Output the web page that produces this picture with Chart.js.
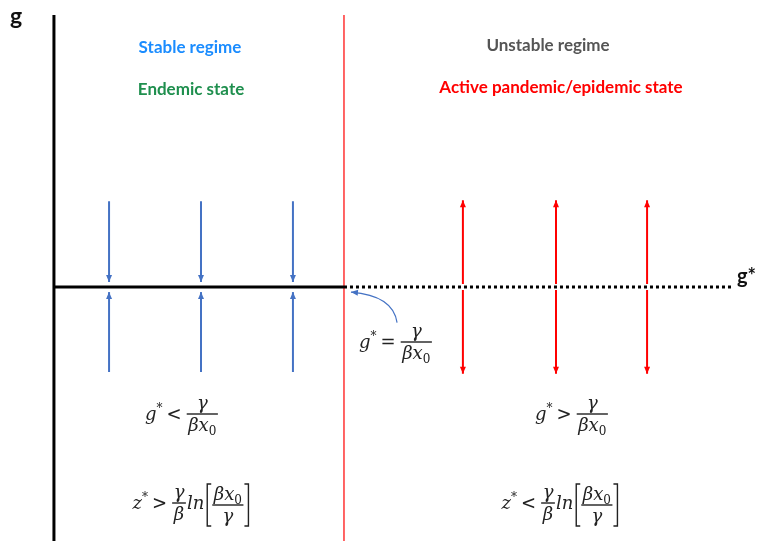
<!DOCTYPE html>
<html>
<head>
<meta charset="utf-8">
<script src="https://cdn.jsdelivr.net/npm/chart.js@4"></script>
<style>
html, body { margin: 0; padding: 0; background: #fff; }
#wrap { width: 757px; height: 541px; }
</style>
</head>
<body>
<div id="wrap"><canvas id="diagram"></canvas></div>
<script>
// g* axis in units of the threshold gamma/(beta x0); g axis in arbitrary units
const threshold = 1;
const stableX = [0.19, 0.507, 0.824];
const unstableX = [1.41, 1.731, 2.045];
// arrow spans [from, to]; the head sits at "to"
const stableSpans = [[1.01, 0.06], [-1.0, -0.06]];
const unstableSpans = [[0.035, 1.02], [-0.035, -1.02]];
const axisTop = 3.2;
const axisBottom = -3.1;
const dottedEnd = 2.34;

const blue = '#4472C4';
const red = '#ff0000';

const datasets = [];
function seg(x0, y0, x1, y1, color, width, extra) {
    datasets.push(Object.assign({
        data: [{x: x0, y: y0}, {x: x1, y: y1}],
        showLine: true,
        borderColor: color,
        backgroundColor: color,
        borderWidth: width,
        pointRadius: 0,
        borderCapStyle: 'butt'
    }, extra || {}));
}

// axes and threshold
seg(0, axisTop, 0, axisBottom, '#000', 3);
seg(0, 0, threshold, 0, '#000', 3);
seg(threshold, 0, dottedEnd, 0, '#000', 3, {borderDash: [3, 3]});
seg(threshold, axisTop, threshold, axisBottom, red, 1.2);

stableX.forEach(x => stableSpans.forEach(s => seg(x, s[0], x, s[1], blue, 2, {arrow: true})));
unstableX.forEach(x => unstableSpans.forEach(s => seg(x, s[0], x, s[1], red, 2, {arrow: true})));

// ---- tiny formula renderer ----
const FS = 18;
const fonts = {
    i: `italic ${FS}px "DejaVu Serif"`,
    n: `${FS}px "DejaVu Serif"`,
    sub: `${Math.round(FS * 0.68)}px "DejaVu Serif"`,
    sup: `${Math.round(FS * 0.68)}px "DejaVu Serif"`
};
function seqW(ctx, seq) {
    let w = 0;
    seq.forEach(p => { ctx.font = fonts[p[1]]; w += ctx.measureText(p[0]).width; });
    return w;
}
function drawSeq(ctx, seq, x, base) {
    seq.forEach(p => {
        ctx.font = fonts[p[1]];
        let dy = p[1] === 'sub' ? 4 : p[1] === 'sup' ? -8 : 0;
        ctx.fillText(p[0], x, base + dy);
        x += ctx.measureText(p[0]).width;
    });
    return x;
}
function drawFrac(ctx, num, den, x, axis) {
    const wn = seqW(ctx, num), wd = seqW(ctx, den);
    const w = Math.max(wn, wd) + 3;
    ctx.fillRect(x, axis - 0.7, w, 1.4);
    drawSeq(ctx, num, x + (w - wn) / 2, axis - 5);
    drawSeq(ctx, den, x + (w - wd) / 2, axis + 17);
    return x + w;
}
function formulaW(ctx, items) {
    let w = 0;
    items.forEach(it => {
        if (it.seq) w += seqW(ctx, it.seq);
        else if (it.op) { ctx.font = fonts.n; w += ctx.measureText(it.op).width + 8; }
        else if (it.frac) w += Math.max(seqW(ctx, it.frac[0]), seqW(ctx, it.frac[1])) + 5;
        else if (it.brk) w += Math.max(seqW(ctx, it.brk[0]), seqW(ctx, it.brk[1])) + 17;
    });
    return w;
}
function drawFormula(ctx, items, cx, axis) {
    let x = cx - formulaW(ctx, items) / 2;
    items.forEach(it => {
        if (it.seq) x = drawSeq(ctx, it.seq, x, axis + 6);
        else if (it.op) {
            ctx.font = fonts.n;
            ctx.fillText(it.op, x + 4, axis + 6);
            x += ctx.measureText(it.op).width + 8;
        } else if (it.frac) {
            x = drawFrac(ctx, it.frac[0], it.frac[1], x + 1, axis) + 1;
        } else if (it.brk) {
            const top = axis - 19, bot = axis + 23;
            ctx.lineWidth = 1.4;
            ctx.beginPath();
            ctx.moveTo(x + 7, top); ctx.lineTo(x + 3, top); ctx.lineTo(x + 3, bot); ctx.lineTo(x + 7, bot);
            ctx.stroke();
            x = drawFrac(ctx, it.brk[0], it.brk[1], x + 8, axis + 2);
            ctx.beginPath();
            ctx.moveTo(x + 1, top); ctx.lineTo(x + 5, top); ctx.lineTo(x + 5, bot); ctx.lineTo(x + 1, bot);
            ctx.stroke();
            x += 7;
        }
    });
}
const gStar = [['g', 'i'], ['*', 'sup']];
const zStar = [['z', 'i'], ['*', 'sup']];
const gam = [['γ', 'i']];
const bet = [['β', 'i']];
const bx0 = [['β', 'i'], ['x', 'i'], ['0', 'sub']];

const labelsPlugin = {
    id: 'labels',
    afterDatasetsDraw(chart) {
        const ctx = chart.ctx;
        const xs = chart.scales.x, ys = chart.scales.y;
        const px = v => xs.getPixelForValue(v), py = v => ys.getPixelForValue(v);
        ctx.save();
        // arrowheads
        chart.data.datasets.forEach((ds, i) => {
            if (!ds.arrow) return;
            const pts = chart.getDatasetMeta(i).data;
            const a = pts[0], b = pts[1];
            const ang = Math.atan2(b.y - a.y, b.x - a.x);
            ctx.fillStyle = ds.borderColor;
            ctx.beginPath();
            ctx.moveTo(b.x, b.y);
            ctx.lineTo(b.x - 7 * Math.cos(ang) + 3 * Math.sin(ang), b.y - 7 * Math.sin(ang) - 3 * Math.cos(ang));
            ctx.lineTo(b.x - 7 * Math.cos(ang) - 3 * Math.sin(ang), b.y - 7 * Math.sin(ang) + 3 * Math.cos(ang));
            ctx.closePath();
            ctx.fill();
        });

        // curved pointer to the threshold
        const sx = px(1.183), sy = py(-0.42), ex = px(1.024), ey = py(-0.06);
        const cx = px(1.17), cy = py(-0.1);
        ctx.strokeStyle = blue;
        ctx.lineWidth = 1.2;
        ctx.beginPath();
        ctx.moveTo(sx, sy);
        ctx.quadraticCurveTo(cx, cy, ex, ey);
        ctx.stroke();
        const ang = Math.atan2(ey - cy, ex - cx);
        ctx.fillStyle = blue;
        ctx.beginPath();
        ctx.moveTo(ex, ey);
        ctx.lineTo(ex - 7 * Math.cos(ang) + 3 * Math.sin(ang), ey - 7 * Math.sin(ang) - 3 * Math.cos(ang));
        ctx.lineTo(ex - 7 * Math.cos(ang) - 3 * Math.sin(ang), ey - 7 * Math.sin(ang) + 3 * Math.cos(ang));
        ctx.closePath();
        ctx.fill();

        // axis names
        ctx.fillStyle = '#111';
        ctx.textBaseline = 'alphabetic';
        ctx.textAlign = 'left';
        ctx.font = 'bold 23px Lato';
        ctx.fillText('g', 10, 24);
        ctx.font = 'bold 20px Lato';
        ctx.fillText('g*', 737, 283);

        // regime titles
        ctx.textAlign = 'center';
        ctx.font = 'bold 17px Lato';
        ctx.fillStyle = '#1a8cff';
        ctx.fillText('Stable regime', 190, 53);
        ctx.fillStyle = '#1f8f4e';
        ctx.fillText('Endemic state', 191, 95);
        ctx.fillStyle = '#555';
        ctx.fillText('Unstable regime', 548, 51);
        ctx.fillStyle = red;
        ctx.fillText('Active pandemic/epidemic state', 561, 93);

        // formulas
        ctx.textAlign = 'left';
        ctx.fillStyle = '#222';
        ctx.strokeStyle = '#222';
        drawFormula(ctx, [{seq: gStar}, {op: '='}, {frac: [gam, bx0]}], 396, 342);
        drawFormula(ctx, [{seq: gStar}, {op: '<'}, {frac: [gam, bx0]}], 182, 414);
        drawFormula(ctx, [{seq: gStar}, {op: '>'}, {frac: [gam, bx0]}], 572, 414);
        drawFormula(ctx, [{seq: zStar}, {op: '>'}, {frac: [gam, bet]}, {seq: [['ln', 'i']]}, {brk: [bx0, gam]}], 191, 503);
        drawFormula(ctx, [{seq: zStar}, {op: '<'}, {frac: [gam, bet]}, {seq: [['ln', 'i']]}, {brk: [bx0, gam]}], 560, 503);
        ctx.restore();
    }
};

new Chart(document.getElementById('diagram').getContext('2d'), {
    type: 'scatter',
    data: { datasets: datasets },
    options: {
        responsive: true,
        maintainAspectRatio: false,
        animation: false,
        layout: { padding: 0 },
        scales: {
            x: { type: 'linear', display: false, min: -0.186, max: 2.424 },
            y: { type: 'linear', display: false, min: -2.988, max: 3.376 }
        },
        plugins: {
            legend: { display: false },
            tooltip: { enabled: false }
        }
    },
    plugins: [labelsPlugin]
});
</script>
</body>
</html>
